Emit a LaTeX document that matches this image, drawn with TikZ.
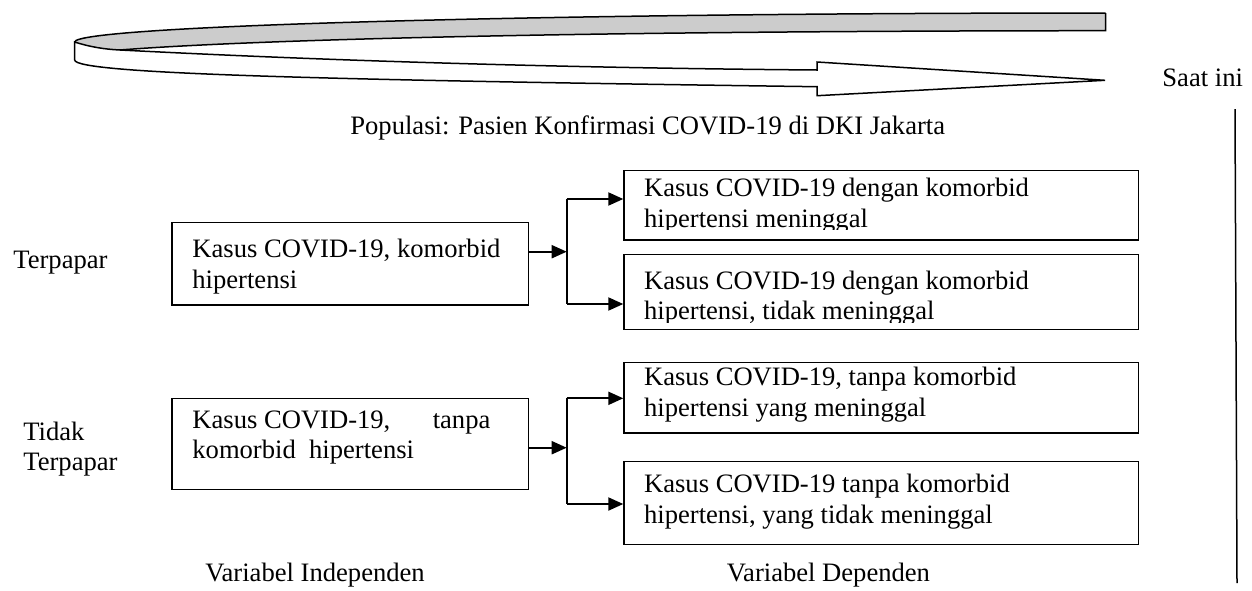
\documentclass[tikz,border=0pt]{standalone}
\usepackage{fontspec}
\setmainfont{Liberation Serif}
\usetikzlibrary{arrows.meta}
\begin{document}
\begin{tikzpicture}[x=0.5pt,y=-0.5pt,
  every node/.style={font=\fontsize{13.3pt}{15.3pt}\selectfont, inner sep=0pt, anchor=base west},
  box/.style={draw, line width=0.6pt, rectangle, anchor=north west, inner sep=0pt},
  conn/.style={line width=1pt},
  arr/.style={line width=1pt, -{Triangle[length=7.5pt,width=6.5pt]}},
  ribbon/.style={draw, line width=0.75pt, line join=miter}
]
\useasboundingbox (0,0) rectangle (1252,590);

% curved arrow ribbon
\fill[gray!40] (1105.7,13) .. controls (536.3,13) and (74.7,26) .. (74.7,42)
  .. controls (90,47) and (105,49.3) .. (120,50)
  .. controls (220,42) and (500,31) .. (1105.7,30.7) -- cycle;
\draw[ribbon] (1105.7,13) .. controls (536.3,13) and (74.7,26) .. (74.7,42);
\draw[ribbon] (120,50) .. controls (220,42) and (500,31) .. (1105.7,30.7) -- (1105.7,13);
\draw[ribbon, fill=white] (74.7,42) .. controls (90,47) and (105,49.3) .. (120,50)
  .. controls (200,54) and (450,67) .. (817,70) -- (817,62) -- (1105,80.3)
  -- (817,95.7) -- (817,86.7) .. controls (330,80) and (74.7,74) .. (74.7,60) -- cycle;

% labels
\node (saat) at (1162,86) {Saat ini};
\node (pop) at (350,134) {Populasi: Pasien Konfirmasi COVID-19 di DKI Jakarta};
\coordinate (lt) at (1235,109);
\coordinate (lb) at (1237,583);
\draw[line width=0.75pt] (lt) -- (lb);

\node (terp) at (13,268) {Terpapar};
\node (tidak1) at (23,440) {Tidak};
\node (tidak2) at (23,470) {Terpapar};
\node (vi) at (205,581) {Variabel Independen};
\node (vd) at (726.5,581) {Variabel Dependen};

% boxes
\node[box, minimum width={356.2*0.5pt}, minimum height={82.3*0.5pt}] (A) at (171.4,222) {};
\node[box, minimum width={356.2*0.5pt}, minimum height={91*0.5pt}] (B) at (171.4,398) {};
\node[box, minimum width={514.3*0.5pt}, minimum height={69.3*0.5pt}] (C) at (623.3,170) {};
\node[box, minimum width={514.3*0.5pt}, minimum height={75*0.5pt}] (D) at (623.3,254) {};
\node[box, minimum width={514.3*0.5pt}, minimum height={70.3*0.5pt}] (E) at (623.3,362) {};
\node[box, minimum width={514.3*0.5pt}, minimum height={83.5*0.5pt}] (F) at (623.3,460.5) {};

% box texts
\node (a1) at (192,257) {Kasus COVID-19, komorbid};
\node (a2) at (192,288) {hipertensi};
\node (b1) at (192,428) {\makebox[149pt][s]{Kasus COVID-19,\hfill tanpa}};
\node (b2) at (192,458) {komorbid\ \ hipertensi};
\begin{scope}
  \clip (623.3,170) rectangle (1137.6,229.5);
  \node (c1) at (643.7,196.5) {Kasus COVID-19 dengan komorbid};
  \node (c2) at (643.7,227) {hipertensi meninggal};
\end{scope}
\begin{scope}
  \clip (623.3,254) rectangle (1137.6,322);
  \node (d1) at (643.7,289) {Kasus COVID-19 dengan komorbid};
  \node (d2) at (643.7,319.5) {hipertensi, tidak meninggal};
\end{scope}
\node (e1) at (643.7,385.5) {Kasus COVID-19, tanpa komorbid};
\node (e2) at (643.7,416) {hipertensi yang meninggal};
\node (f1) at (643.7,492) {Kasus COVID-19 tanpa komorbid};
\node (f2) at (643.7,523) {hipertensi, yang tidak meninggal};

% connectors
\coordinate (jA) at (566.7,251.7);
\coordinate (jA1) at (566.7,199);
\coordinate (jA2) at (566.7,304);
\draw[arr] (A.east |- jA) -- (jA);
\draw[conn] (jA1) -- (jA2);
\draw[arr] (jA1) -- (jA1 -| C.west);
\draw[arr] (jA2) -- (jA2 -| D.west);

\coordinate (jB) at (566.7,447.7);
\coordinate (jB1) at (566.7,398.3);
\coordinate (jB2) at (566.7,504);
\draw[arr] (B.east |- jB) -- (jB);
\draw[conn] (jB1) -- (jB2);
\draw[arr] (jB1) -- (jB1 -| E.west);
\draw[arr] (jB2) -- (jB2 -| F.west);
\end{tikzpicture}
\end{document}
